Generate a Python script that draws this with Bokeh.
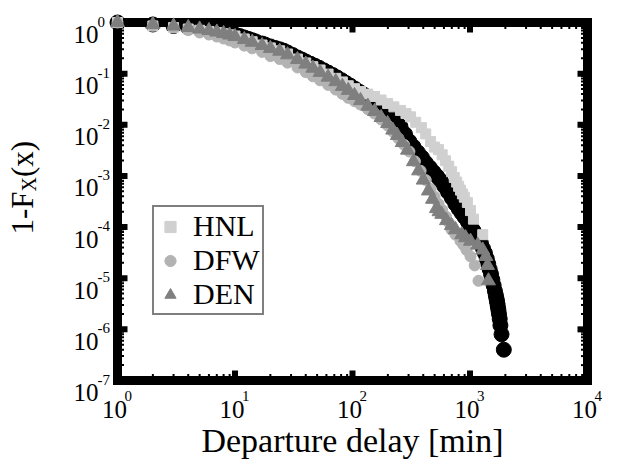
import math
from bokeh.plotting import figure
from bokeh.models import Legend, LegendItem, Label, ColumnDataSource, Range1d
from bokeh.core.properties import value
from bokeh.embed import file_html
from bokeh.resources import INLINE

# ---------------- data ----------------
# black series (not in legend)
blk_x = [1, 2, 3, 4, 5, 6, 7, 8, 9, 10, 11, 12, 13, 14, 15, 17, 18, 20, 22, 24, 26, 28, 31, 34,
         37, 40, 44, 48, 52, 57, 62, 68, 74, 81, 88, 96, 105, 115, 125, 137, 150, 164, 179, 196,
         215, 235, 256, 280, 305, 330, 360, 390, 420, 455, 490, 525, 565, 605, 650, 700, 750,
         800, 850, 900, 960, 1010, 1070, 1130, 1190, 1240, 1290, 1340, 1390, 1430, 1470, 1510,
         1550, 1590, 1630, 1660, 1680, 1695, 1710, 1725, 1745, 1765, 1790, 1815, 1855, 1940]
blk_y = [1.0, 0.914, 0.854, 0.798, 0.753, 0.713, 0.679, 0.646, 0.614, 0.583, 0.544, 0.509,
         0.478, 0.451, 0.427, 0.388, 0.371, 0.341, 0.317, 0.299, 0.281, 0.259, 0.231, 0.207,
         0.189, 0.173, 0.156, 0.142, 0.130, 0.116, 0.105, 0.0937, 0.0841, 0.0741, 0.0656,
         0.0581, 0.0506, 0.0440, 0.0388, 0.0337, 0.0296, 0.0251, 0.0218, 0.0186, 0.0148,
         0.0116, 0.00925, 0.00654, 0.00471, 0.00371, 0.00288, 0.00229, 0.00180, 0.00145,
         0.00118, 0.00098, 0.00080, 0.00063, 0.000485, 0.000373, 0.000286, 0.000229, 0.000188,
         0.000157, 0.000127, 0.000107, 8.5e-5, 6.9e-5, 5.9e-5, 4.8e-5, 3.8e-5, 3.1e-5, 2.4e-5,
         1.9e-5, 1.5e-5, 1.2e-5, 9.3e-6, 7.2e-6, 5.6e-6, 4.6e-6, 4.0e-6, 3.6e-6, 3.2e-6, 2.8e-6,
         2.4e-6, 2.0e-6, 1.6e-6, 1.2e-6, 8.0e-7, 4.0e-7]

hnl_x = [1, 2, 3, 4, 5, 6, 7, 8, 9, 10, 12, 14, 17, 20, 24, 28, 34, 40, 46, 53, 62, 72, 82, 92,
         104, 117, 135, 154, 175, 199, 225, 256, 285, 312, 345, 386, 420, 462, 500, 540, 580,
         620, 660, 697, 735, 770, 800, 830, 862, 895, 950, 1010, 1070, 1283]
hnl_y = [1.0, 0.855, 0.798, 0.746, 0.704, 0.667, 0.634, 0.604, 0.574, 0.545, 0.476, 0.421,
         0.363, 0.319, 0.280, 0.242, 0.193, 0.162, 0.137, 0.118, 0.098, 0.081, 0.0689, 0.058,
         0.0508, 0.0448, 0.0398, 0.0357, 0.0305, 0.0261, 0.0224, 0.0191, 0.0166, 0.0143,
         0.0112, 0.0088, 0.00664, 0.00471, 0.00366, 0.00327, 0.00259, 0.00198, 0.00155,
         0.00121, 0.00093, 0.000757, 0.000626, 0.000528, 0.000445, 0.000384, 0.000303,
         2.1e-4, 1.43e-4, 7.1e-5]

dfw_x = [1, 2, 3, 4, 5, 6, 7, 8, 9, 10, 12, 14, 17, 20, 24, 28, 34, 40, 46, 53, 62, 72, 82, 92,
         104, 117, 135, 154, 175, 199, 220, 246, 275, 305, 340, 380, 420, 462, 500, 540, 580,
         625, 665, 696, 753, 830, 880, 934, 1010, 1096, 1181]
dfw_y = [1.0, 0.874, 0.798, 0.713, 0.637, 0.582, 0.532, 0.486, 0.445, 0.406, 0.353, 0.312,
         0.266, 0.220, 0.193, 0.164, 0.132, 0.107, 0.0887, 0.0741, 0.0603, 0.0488, 0.0402,
         0.0336, 0.0289, 0.0249, 0.0202, 0.0166, 0.0127, 0.0097, 0.00736, 0.0054, 0.00406,
         0.0030, 0.00193, 0.00126, 0.00083, 0.000555, 0.000392, 0.000284, 0.000215, 0.00016,
         0.00012, 8.9e-5, 7.1e-5, 5.3e-5, 4.45e-5, 3.56e-5, 2.67e-5, 1.78e-5, 8.9e-6]

den_x = [1, 2, 3, 4, 5, 6, 7, 8, 9, 10, 12, 14, 17, 20, 24, 28, 34, 40, 46, 53, 62, 72, 82, 92,
         104, 117, 135, 154, 175, 199, 220, 241, 265, 294, 330, 365, 400, 443, 480, 518, 545,
         575, 631, 694, 753, 850, 917, 1010, 1162, 1283, 1365, 1410, 1436]
den_y = [1.0, 0.914, 0.855, 0.798, 0.746, 0.698, 0.652, 0.609, 0.570, 0.532, 0.465, 0.412,
         0.355, 0.312, 0.275, 0.234, 0.189, 0.154, 0.128, 0.106, 0.0856, 0.0699, 0.0565,
         0.0472, 0.0374, 0.0298, 0.0231, 0.0182, 0.0139, 0.0106, 0.0079, 0.0062, 0.0045,
         0.0032, 0.0019, 0.00126, 0.00083, 0.00051, 0.00035, 0.00023, 0.0002, 1.78e-4,
         1.34e-4, 1.07e-4, 8.9e-5, 7.1e-5, 6.2e-5, 5.3e-5, 4.45e-5, 3.56e-5, 2.67e-5, 1.78e-5,
         8.9e-6]

series_labels = ["HNL", "DFW", "DEN"]

x_ticks = [1, 10, 100, 1000, 10000]
x_exps = ["0", "1", "2", "3", "4"]
y_ticks = [1, 1e-1, 1e-2, 1e-3, 1e-4, 1e-5, 1e-6, 1e-7]
y_exps = ["0", "-1", "-2", "-3", "-4", "-5", "-6", "-7"]

x_title = "Departure delay [min]"
y_title_parts = ["1-F", "X", "(x)"]

# ---------------- layout constants (pixels) ----------------
W, H = 618, 460
BOX_L, BOX_R, BOX_T, BOX_B = 117, 587, 22, 380
FONT = "Liberation Serif"

x_lo, x_hi = x_ticks[0], x_ticks[-1]
y_lo, y_hi = y_ticks[-1], y_ticks[0]
px_per_dec_x = (BOX_R - BOX_L) / math.log10(x_hi / x_lo)
px_per_dec_y = (BOX_B - BOX_T) / math.log10(y_hi / y_lo)
x_range = Range1d(x_lo * 10 ** (-BOX_L / px_per_dec_x), x_hi * 10 ** ((W - BOX_R) / px_per_dec_x))
y_range = Range1d(y_lo * 10 ** (-(H - BOX_B) / px_per_dec_y), y_hi * 10 ** (BOX_T / px_per_dec_y))

p = figure(width=W, height=H, x_axis_type="log", y_axis_type="log",
           x_range=x_range, y_range=y_range,
           x_axis_location=None, y_axis_location=None,
           output_backend="svg", toolbar_location=None,
           min_border=0)
p.grid.visible = False
p.outline_line_color = None
p.background_fill_color = "white"
p.border_fill_color = "white"

# ---------------- plot box ----------------
p.quad(left=[x_lo], right=[x_hi], bottom=[y_lo], top=[y_hi], fill_color=None,
       line_color="black", line_width=9, line_join="miter")

# ---------------- ticks (inward, on all four sides) ----------------
x_minor = [m * 10.0 ** k for k in range(0, 4) for m in range(2, 10)]
y_minor = [m * 10.0 ** (-k) for k in range(1, 8) for m in range(2, 10)]
x_major_in = x_ticks[1:-1]
y_major_in = y_ticks[1:-1]

def ticks(xs, ys, angle, length, width):
    p.ray(x=xs, y=ys, length=length, length_units="screen", angle=angle,
          line_color="black", line_width=width)

for (xt, ln, lw) in [(x_major_in, 10, 6), (x_minor, 6.5, 2)]:
    ticks(xt, [y_lo] * len(xt), math.pi / 2, ln, lw)
    ticks(xt, [y_hi] * len(xt), -math.pi / 2, ln, lw)
for (yt, ln, lw) in [(y_major_in, 10, 6), (y_minor, 6.5, 2)]:
    ticks([x_lo] * len(yt), yt, 0, ln, lw)
    ticks([x_hi] * len(yt), yt, math.pi, ln, lw)

# ---------------- data glyphs ----------------
r_blk = p.scatter(blk_x, blk_y, marker="circle", size=15, fill_color="black", line_color="black")
r_hnl = p.scatter(hnl_x, hnl_y, marker="square", size=10, fill_color="#d0d0d0", line_color="#d0d0d0")
r_dfw = p.scatter(dfw_x, dfw_y, marker="circle", size=11, fill_color="#b3b3b3", line_color="#b3b3b3")
r_den = p.scatter(den_x, den_y, marker="triangle", size=14, fill_color="#7f7f7f", line_color="#7f7f7f")

legend = Legend(items=[LegendItem(label=series_labels[0], renderers=[r_hnl]),
                       LegendItem(label=series_labels[1], renderers=[r_dfw]),
                       LegendItem(label=series_labels[2], renderers=[r_den])],
                location=(152, H - 315), orientation="vertical",
                label_text_font=FONT, label_text_font_size="30px", label_text_color="black",
                label_standoff=9, glyph_width=28, glyph_height=33, padding=2, spacing=0,
                margin=0, border_line_color="black", border_line_width=2,
                background_fill_color="white", background_fill_alpha=1.0)
p.add_layout(legend)

# ---------------- tick labels ----------------
xs = ColumnDataSource(dict(x=x_ticks, y=[y_lo] * len(x_ticks),
                           base=["10"] * len(x_ticks), exp=x_exps))
ys = ColumnDataSource(dict(x=[x_lo] * len(y_ticks), y=y_ticks,
                           base=["10"] * len(y_ticks), exp=y_exps))

p.text(x="x", y="y", text="base", source=xs, x_offset=9.5, y_offset=29,
       text_align="right", text_baseline="alphabetic",
       text_font=value(FONT), text_font_size=value("25px"), text_color="black")
p.text(x="x", y="y", text="exp", source=xs, x_offset=7, y_offset=15,
       text_align="left", text_baseline="alphabetic",
       text_font=value(FONT), text_font_size=value("15px"), text_color="black")
p.text(x="x", y="y", text="base", source=ys, x_offset=-19, y_offset=12,
       text_align="right", text_baseline="alphabetic",
       text_font=value(FONT), text_font_size=value("25px"), text_color="black")
p.text(x="x", y="y", text="exp", source=ys, x_offset=-20, y_offset=-1,
       text_align="left", text_baseline="alphabetic",
       text_font=value(FONT), text_font_size=value("15px"), text_color="black")

# ---------------- axis titles ----------------
p.add_layout(Label(x=(BOX_L + BOX_R) / 2, y=H - 440, x_units="screen", y_units="screen",
                   text=x_title, text_align="center", text_baseline="alphabetic",
                   text_font=FONT, text_font_size="34px", text_color="black"))

big, small = 31, 20
w1 = (0.5 + 0.333 + 0.556) * big
w2 = 0.722 * small
y0 = H - 234
p.add_layout(Label(x=22, y=y0, x_units="screen", y_units="screen", text=y_title_parts[0],
                   angle=math.pi / 2, text_align="left", text_baseline="alphabetic",
                   text_font=FONT, text_font_size=f"{big}px", text_color="black"))
p.add_layout(Label(x=28, y=y0 + w1, x_units="screen", y_units="screen", text=y_title_parts[1],
                   angle=math.pi / 2, text_align="left", text_baseline="alphabetic",
                   text_font=FONT, text_font_size=f"{small}px", text_color="black"))
p.add_layout(Label(x=22, y=y0 + w1 + w2, x_units="screen", y_units="screen",
                   text=y_title_parts[2], angle=math.pi / 2, text_align="left",
                   text_baseline="alphabetic",
                   text_font=FONT, text_font_size=f"{big}px", text_color="black"))

open("out.html", "w").write(file_html(p, INLINE))
